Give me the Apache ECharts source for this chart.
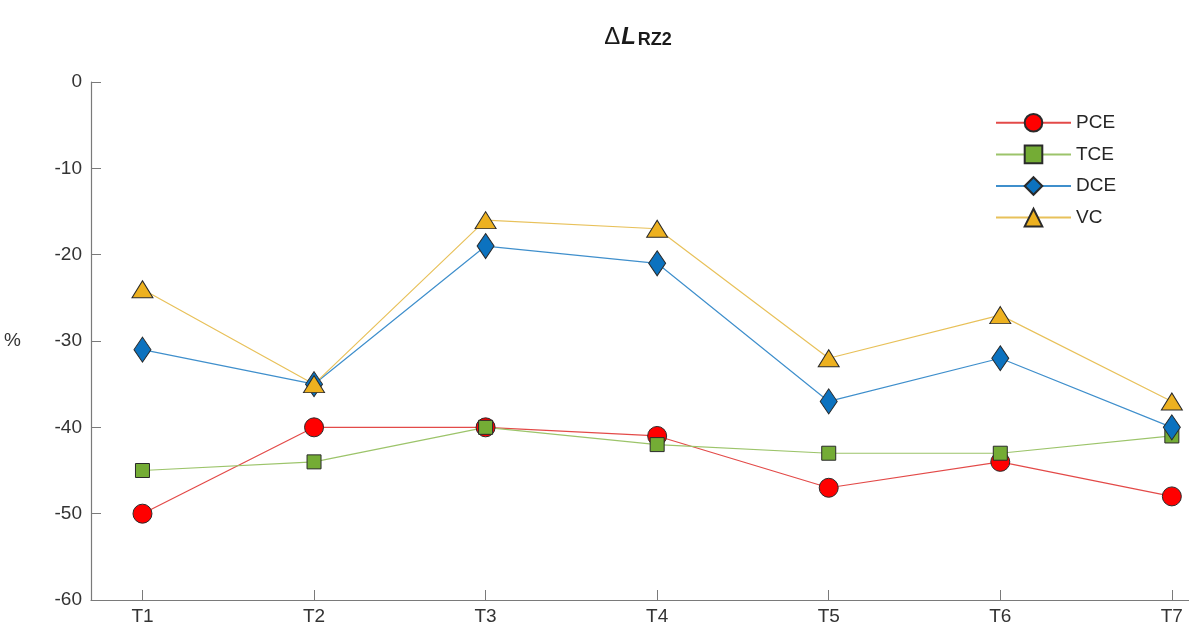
<!DOCTYPE html>
<html><head><meta charset="utf-8">
<script src="https://cdn.jsdelivr.net/npm/echarts@6/dist/echarts.min.js"></script>
<style>html,body{margin:0;padding:0;background:#fff}#c{width:1189px;height:629px}</style>
</head><body><div id="c"></div>
<script>
const categories = ['T1','T2','T3','T4','T5','T6','T7'];
const yTicks = [0,-10,-20,-30,-40,-50,-60];
const PCE = [-50,-40,-40,-41,-47,-44,-48];
const TCE = [-45,-44,-40,-42,-43,-43,-41];
const DCE = [-31,-35,-19,-21,-37,-32,-40];
const VC  = [-24,-35,-16,-17,-32,-27,-37];

const pos = categories.map((c,i)=>i+1);
const toData = arr => arr.map((v,i)=>[pos[i], v]);
const font = 'Arial, "Liberation Sans", sans-serif';

function mk(name, data, lineColor, fill, symbol, size){
  return {
    name, type:'line', data: toData(data),
    symbol, symbolSize: size,
    lineStyle:{color: lineColor, width: 1.2},
    itemStyle:{color: fill, borderColor:'#2a2a2a', borderWidth:1},
    emphasis:{disabled:true}, animation:false, z: 3
  };
}

const chart = echarts.init(document.getElementById('c'), null, {renderer:'canvas'});
chart.setOption({
  animation:false,
  title:{
    text:'{d|\u0394}{l|L}{s|RZ2}',
    left: 633, textAlign:'center', top: 14,
    textStyle:{rich:{
      d:{fontFamily:font, fontSize:24, fontWeight:'normal', color:'#1a1a1a', verticalAlign:'bottom', lineHeight:30, padding:[0,1,0,0]},
      l:{fontFamily:font, fontSize:24, fontWeight:'bold', fontStyle:'italic', color:'#1a1a1a', lineHeight:30, verticalAlign:'bottom'},
      s:{fontFamily:font, fontSize:18, fontWeight:'bold', color:'#1a1a1a', padding:[16,0,0,2], lineHeight:30, verticalAlign:'bottom'}
    }}
  },
  grid:{left:91, right:0, top:82, bottom:29, containLabel:false},
  legend:{
    orient:'vertical', left: 990, top: 108,
    itemWidth: 75, itemHeight: 22, itemGap: 12,
    textStyle:{fontFamily:font, fontSize:19, color:'#262626'},
    data:['PCE','TCE','DCE','VC']
  },
  xAxis:{
    type:'value', min:0.7, max:7.1,
    splitLine:{show:false},
    axisLine:{onZero:false, lineStyle:{color:'#7a7a7a', width:1.2}},
    axisTick:{inside:true, length:10, lineStyle:{color:'#7a7a7a'}, customValues: pos},
    axisLabel:{customValues: pos, formatter: v => categories[Math.round(v)-1] || '',
      fontFamily:font, fontSize:19, color:'#333', margin:7}
  },
  yAxis:{
    type:'value', min:-60, max:0, interval:10,
    name:'%', nameLocation:'middle', nameRotate:0, nameGap:70,
    nameTextStyle:{fontFamily:font, fontSize:19, color:'#333'},
    splitLine:{show:false},
    axisLine:{show:true, lineStyle:{color:'#7a7a7a', width:1.2}},
    axisTick:{show:true, inside:true, length:10, lineStyle:{color:'#7a7a7a'}},
    axisLabel:{fontFamily:font, fontSize:19, color:'#333', margin:9,
      formatter: v => yTicks.includes(v) ? String(v) : ''}
  },
  series:[
    mk('PCE', PCE, '#e34a48', '#ff0000', 'circle', 19),
    mk('TCE', TCE, '#9cc46a', '#74ac35', 'rect', 14),
    mk('DCE', DCE, '#3f8fcc', '#0c72bf', 'diamond', [17,25]),
    mk('VC',  VC,  '#e8c15a', '#edb120', 'triangle', [21,17])
  ]
});
</script></body></html>
